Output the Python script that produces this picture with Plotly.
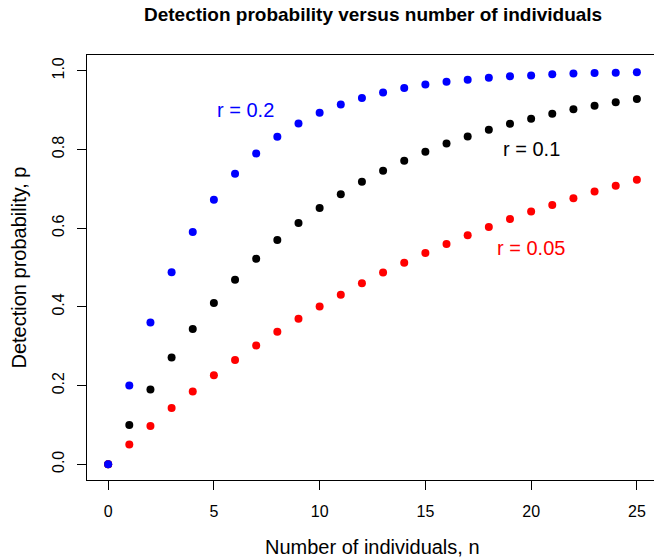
import plotly.graph_objects as go

n = list(range(26))
p_r02 = [0, 0.2, 0.36, 0.488, 0.590, 0.672, 0.738, 0.790, 0.832, 0.866, 0.893, 0.914, 0.931,
         0.945, 0.956, 0.965, 0.972, 0.977, 0.982, 0.986, 0.988, 0.991, 0.993, 0.994, 0.995, 0.996]
p_r01 = [0, 0.1, 0.19, 0.271, 0.344, 0.410, 0.469, 0.522, 0.570, 0.613, 0.651, 0.686, 0.718,
         0.746, 0.771, 0.794, 0.815, 0.833, 0.850, 0.865, 0.878, 0.891, 0.902, 0.911, 0.920, 0.928]
p_r005 = [0, 0.05, 0.0975, 0.143, 0.185, 0.226, 0.265, 0.302, 0.337, 0.370, 0.401, 0.431, 0.460,
          0.487, 0.512, 0.537, 0.560, 0.582, 0.603, 0.623, 0.642, 0.659, 0.676, 0.693, 0.708, 0.723]

labels = [("r = 0.2", 6.5, 0.9, "blue"), ("r = 0.1", 20, 0.8, "black"), ("r = 0.05", 20, 0.55, "red")]
x_ticks = [0, 5, 10, 15, 20, 25]
y_ticks = [0, 0.2, 0.4, 0.6, 0.8, 1.0]
y_ticktext = ["0.0", "0.2", "0.4", "0.6", "0.8", "1.0"]

FONT = "Liberation Sans, Arial, sans-serif"
fig = go.Figure()
for ys, col in [(p_r01, "black"), (p_r005, "red"), (p_r02, "blue")]:
    fig.add_trace(go.Scatter(x=n, y=ys, mode="markers",
                             marker=dict(color=col, size=8, line=dict(width=0)),
                             showlegend=False, cliponaxis=False))

for txt, x, y, col in labels:
    fig.add_annotation(x=x, y=y, text=txt, showarrow=False,
                       font=dict(family=FONT, size=20, color=col))

# main title and axis titles (centred on the full R plot region)
fig.add_annotation(x=12.5, xref="x", y=(480 - 15) / 425, yref="paper", yanchor="middle",
                   text="<b>Detection probability versus number of individuals</b>",
                   showarrow=False, font=dict(family=FONT, size=19, color="black"))
fig.add_annotation(x=12.5, xref="x", y=(480 - 547) / 425, yref="paper", yanchor="middle",
                   text="Number of individuals, n",
                   showarrow=False, font=dict(family=FONT, size=20, color="black"))
fig.add_annotation(x=(18 - 87) / 567, xref="paper", xanchor="center", y=0.5, yref="y domain",
                   text="Detection probability, p", textangle=-90,
                   showarrow=False, font=dict(family=FONT, size=20, color="black"))

fig.update_layout(
    width=654, height=559,
    margin=dict(l=87, r=0, t=55, b=79),
    plot_bgcolor="white", paper_bgcolor="white",
    font=dict(family=FONT, color="black"),
    xaxis=dict(range=[-1, 25.81], tickvals=x_ticks, showgrid=False, zeroline=False,
               showline=True, linecolor="black", linewidth=1, mirror=True,
               ticks="outside", ticklen=9, tickcolor="black", ticklabelstandoff=8,
               tickfont=dict(size=16)),
    yaxis=dict(range=[-0.04, 1.04], tickvals=y_ticks, ticktext=y_ticktext, tickangle=-90,
               showgrid=False, zeroline=False, showline=True, linecolor="black", linewidth=1,
               ticks="outside", ticklen=9, tickcolor="black", ticklabelstandoff=7,
               tickfont=dict(size=16)),
)

fig.write_html("out.html")
